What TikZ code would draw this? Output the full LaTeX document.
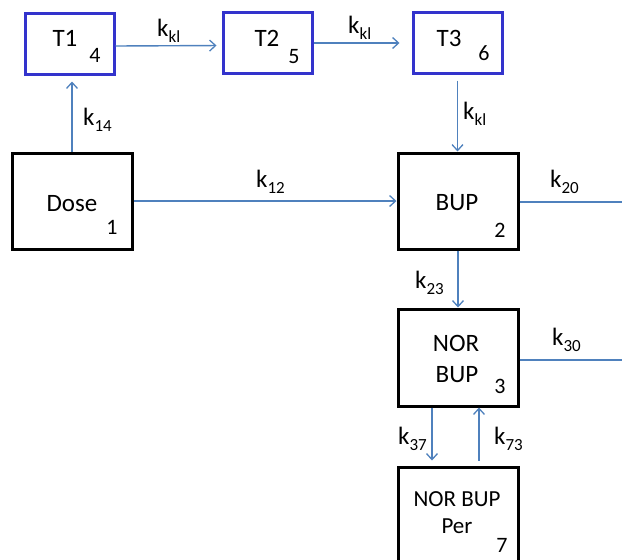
\documentclass[tikz,border=0pt]{standalone}
\usepackage{fontspec}
\setmainfont{Carlito}
\usetikzlibrary{arrows.meta}
\definecolor{boxblue}{RGB}{51,51,204}
\definecolor{flow}{RGB}{79,129,189}
% rate constant with a lowered index
\newcommand\rate[1]{k\raisebox{-6pt}{\fontsize{17}{20}\selectfont #1}}
\tikzset{
  tissue/.style={draw=boxblue, line width=3pt, minimum width=89pt, minimum height=61pt, inner sep=0pt},
  compart/.style={draw=black, line width=3pt, minimum width=120pt, minimum height=96pt, inner sep=0pt},
  flowline/.style={draw=flow, line width=1.4pt},
  flowarrow/.style={flowline, -{Straight Barb[length=6pt,width=11pt,line width=1.3pt]}},
  maintext/.style={anchor=base, inner sep=0pt, font=\fontsize{25}{30}\selectfont},
  numtext/.style={anchor=base, inner sep=0pt, font=\fontsize{22}{26}\selectfont},
  ratetext/.style={anchor=base west, inner sep=0pt, font=\fontsize{25}{30}\selectfont},
}
\begin{document}
\begin{tikzpicture}[x=1pt,y=-1pt]
\useasboundingbox (0,0) rectangle (622,560);

% compartments
\node[tissue] (T1) at (69.5,43.5) {};
\node[tissue] (T2) at (267.5,43) {};
\node[tissue] (T3) at (457.5,42.5) {};
\node[compart] (dose) at (72,201) {};
\node[compart] (bup) at (458,201) {};
\node[compart, minimum height=97pt] (nor) at (458,357.5) {};
\node[compart, minimum height=100pt] (per) at (458,517) {};

% compartment labels
\node[maintext] (t1name) at (65,46) {T1};
\node[numtext] (t1num) at (95,62) {4};
\node[maintext] (t2name) at (267,46) {T2};
\node[numtext] (t2num) at (294,63) {5};
\node[maintext] (t3name) at (449,46) {T3};
\node[numtext] (t3num) at (484,60) {6};
\node[maintext] (dosename) at (72,211) {Dose};
\node[numtext] (dosenum) at (112,234) {1};
\node[maintext] (bupname) at (457,210) {BUP};
\node[numtext] (bupnum) at (500,237) {2};
\node[maintext] (norname) at (456,351) {NOR};
\node[maintext] (norname2) at (457,382) {BUP};
\node[numtext] (nornum) at (500,393) {3};
\node[maintext, font=\fontsize{23}{28}\selectfont] (pername) at (457,506) {NOR BUP};
\node[maintext, font=\fontsize{23}{28}\selectfont] (pername2) at (457,533) {Per};
\node[numtext] (pernum) at (502,552) {7};

% open ends of the elimination lines
\coordinate (out20) at (622,202);
\coordinate (out30) at (622,360);

% transfers
\draw[flowarrow, shorten >=5pt] ([yshift=-2.5pt]T1.east) -- ([yshift=-2.5pt]T2.west);
\draw[flowarrow, shorten >=12pt] (T2.east) -- (T2.east -| T3.west);
\draw[flowarrow, shorten <=6pt] (T3.south) -- (T3.south |- bup.north);
\draw[flowarrow, shorten >=6pt] (dose.north) -- (dose.north |- T1.south);
\draw[flowarrow] (dose.east) -- (bup.west);
\draw[flowline] ([yshift=-1pt]bup.east) -- (out20);
\draw[flowarrow] (bup.south) -- (nor.north);
\draw[flowline] ([yshift=-2.5pt]nor.east) -- (out30);
\draw[flowarrow, shorten >=5pt] ([xshift=-26pt]nor.south) -- ([xshift=-26pt]per.north);
\draw[flowarrow, shorten <=5pt] ([xshift=21pt]per.north) -- ([xshift=21pt]nor.south);

% rate constants
\node[ratetext] (r45) at (157,36) {\rate{kl}};
\node[ratetext] (r56) at (348,33) {\rate{kl}};
\node[ratetext] (r62) at (463,119) {\rate{kl}};
\node[ratetext] (r14) at (83,125) {\rate{14}};
\node[ratetext] (r12) at (256,187) {\rate{12}};
\node[ratetext] (r20) at (550,187) {\rate{20}};
\node[ratetext] (r23) at (415,288) {\rate{23}};
\node[ratetext] (r30) at (552,345) {\rate{30}};
\node[ratetext] (r37) at (398,444) {\rate{37}};
\node[ratetext] (r73) at (494,444) {\rate{73}};
\end{tikzpicture}
\end{document}
